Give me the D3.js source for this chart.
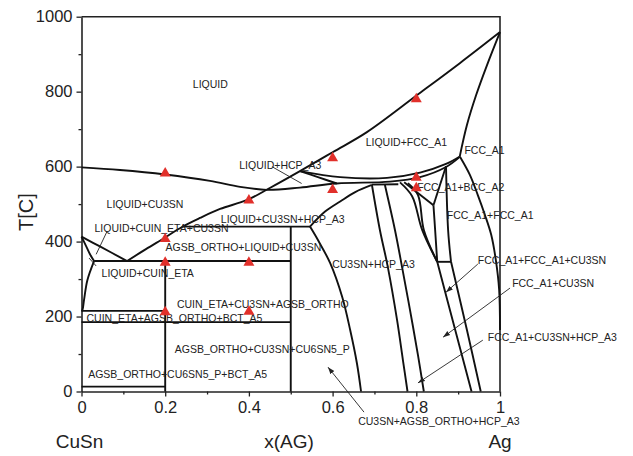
<!DOCTYPE html>
<html>
<head>
<meta charset="utf-8">
<script src="https://cdn.jsdelivr.net/npm/d3@7"></script>
<style>
  body { margin: 0; background: #fff; }
  svg { display: block; font-family: "Liberation Sans", Arial, sans-serif; }
</style>
</head>
<body>
<svg id="chart"></svg>
<script>
// axis ticks
const xTicks = [0, 0.2, 0.4, 0.6, 0.8, 1];
const xMinor = [0.1, 0.3, 0.5, 0.7, 0.9];
const yTicks = [0, 200, 400, 600, 800, 1000];
const yMinor = [100, 300, 500, 700, 900];

// phase boundaries, [x(AG), T]
const liquidusRise = [[0.109,348],[0.154,380],[0.2,411],[0.24,439],[0.283,463],[0.331,487],[0.396,511],[0.45,543],[0.522,588],[0.601,639],[0.682,692],[0.802,791],[0.904,876],[1,959]];
const liquidusFall = [[0,598],[0.092,591],[0.2,579],[0.307,562],[0.379,546],[0.443,538],[0.522,544],[0.61,555],[0.737,560],[0.809,572],[0.871,599],[0.904,626]];
const solidusUpper = [[0.522,588],[0.618,572],[0.73,570],[0.809,584],[0.871,607],[0.904,627]];
const hcpEdge = [[0.522,588],[0.565,572],[0.61,555]];
const fccSolidus = [[1,959],[0.969,871],[0.943,791],[0.921,711],[0.904,628]];
const fccSolvus = [[0.904,627],[0.928,578],[0.947,524],[0.964,471],[0.979,418],[0.99,351],[0.998,271],[1,164]];
const cu3snLeft = [[0.546,440],[0.565,404],[0.594,343],[0.623,252],[0.642,164],[0.658,76],[0.668,0]];
const cu3snTop = [[0.546,440],[0.582,480],[0.618,507],[0.654,532],[0.694,551]];
const eut552 = [[0.694,552],[0.757,553]];
const hcpLeft = [[0.694,551],[0.713,431],[0.732,332],[0.754,191],[0.768,84],[0.779,0]];
const hcpRight = [[0.725,551],[0.749,431],[0.766,332],[0.785,217],[0.804,97],[0.818,0]];
const wedge1 = [[0.761,558],[0.79,521],[0.814,431],[0.85,346]];
const wedge2 = [[0.78,556],[0.804,524],[0.818,431],[0.85,346]];
const wedge3 = [[0.841,497],[0.845,431],[0.85,346]];
const bccLeft = [[0.771,558],[0.841,497]];
const bccRight = [[0.841,497],[0.871,601]];
const stripRight = [[0.871,601],[0.876,431],[0.883,346]];
const strip346 = [[0.85,346],[0.883,346]];
const fccLeft = [[0.85,346],[0.893,164],[0.932,0]];
const fccRight = [[0.883,346],[0.921,164],[0.954,0]];
const liqCuSn = [[0,413],[0.044,387],[0.109,348]];
const etaTop = [[0,413],[0.011,388],[0.02,367],[0.03,348]];
const etaLeft = [[0.03,348],[0.014,297],[0.006,244],[0.002,217],[0,215]];
const iso440 = [[0.24,440],[0.546,440]];
const iso348 = [[0.03,348],[0.5,348]];
const iso215 = [[0,215],[0.2,215]];
const iso185 = [[0,185],[0.5,185]];
const iso13 = [[0,13],[0.2,13]];
const line02 = [[0.2,348],[0.2,0]];
const line05 = [[0.5,440],[0.5,0]];

const boundaries = [liquidusRise, liquidusFall, solidusUpper, hcpEdge, fccSolidus, fccSolvus,
  cu3snLeft, cu3snTop, eut552, hcpLeft, hcpRight, wedge1, wedge2, wedge3, bccLeft, bccRight,
  stripRight, strip346, fccLeft, fccRight, liqCuSn, etaTop, etaLeft,
  iso440, iso348, iso215, iso185, iso13, line02, line05];

// pointer lines
const leaders = [[[0.061,427],[0.035,366]], [[0.018,356],[0.035,335]], [[0.455,600],[0.526,555]]];
const arrows = [[[0.947,340],[0.871,265]], [[1.024,276],[0.864,145]], [[0.959,137],[0.804,23]], [[0.675,-55],[0.589,65]]];

// measured points
const triX = [0.2, 0.4, 0.2, 0.2, 0.4, 0.2, 0.4, 0.6, 0.6, 0.8, 0.8, 0.8];
const triT = [582, 510, 407, 344, 344, 212, 213, 623, 538, 780, 571, 543];

// region labels
const labelText = ["LIQUID","LIQUID+FCC_A1","FCC_A1","LIQUID+HCP_A3","LIQUID+CU3SN","LIQUID+CU3SN+HCP_A3",
  "LIQUID+CUIN_ETA+CU3SN","AGSB_ORTHO+LIQUID+CU3SN","LIQUID+CUIN_ETA","CUIN_ETA+CU3SN+AGSB_ORTHO",
  "CUIN_ETA+AGSB_ORTHO+BCT_A5","AGSB_ORTHO+CU3SN+CU6SN5_P","AGSB_ORTHO+CU6SN5_P+BCT_A5","CU3SN+HCP_A3",
  "FCC_A1+BCC_A2","FCC_A1+FCC_A1","FCC_A1+FCC_A1+CU3SN","FCC_A1+CU3SN","FCC_A1+CU3SN+HCP_A3",
  "CU3SN+AGSB_ORTHO+HCP_A3"];
const labelX = [0.266,0.679,0.915,0.377,0.060,0.333,0.031,0.201,0.048,0.228,0.012,0.223,0.016,0.599,0.802,0.873,0.947,1.029,0.971,0.661];
const labelT = [811,654,634,594,490,450,426,376,305,223,186,104,36,329,536,460,339,278,134,-89];

const width = 633, height = 456;
const margin = { top: 16.7, right: 133, bottom: 64.5, left: 81.5 };

const svg = d3.select('#chart').attr('width', width).attr('height', height);

const x = d3.scaleLinear().domain([0, 1]).range([margin.left, width - margin.right]);
const y = d3.scaleLinear().domain([0, 1000]).range([height - margin.bottom, margin.top]);

svg.append('defs').append('marker')
  .attr('id', 'head')
  .attr('viewBox', '0 0 10 10')
  .attr('refX', 10).attr('refY', 5)
  .attr('markerWidth', 7).attr('markerHeight', 7)
  .attr('markerUnits', 'userSpaceOnUse')
  .attr('orient', 'auto')
  .append('path').attr('d', 'M0,1.5 L10,5 L0,8.5 Z').attr('fill', '#222');

const line = d3.line()
  .x(d => x(d[0]))
  .y(d => y(d[1]))
  .curve(d3.curveCatmullRom.alpha(0.5));

// frame
svg.append('path')
  .attr('d', `M${x(0)},${y(1000)} H${x(1)} V${y(0)}`)
  .attr('fill', 'none').attr('stroke', '#222').attr('stroke-width', 1.6);

// axes
const styleAxis = g => {
  g.select('.domain').attr('stroke', '#222').attr('stroke-width', 1.6);
  g.selectAll('.tick line').attr('stroke', '#222').attr('stroke-width', 1.3);
  g.selectAll('text').attr('fill', '#222').style('font-size', '16.5px')
    .style('font-family', '"Liberation Sans", Arial, sans-serif');
};

svg.append('g')
  .attr('transform', `translate(0,${y(0)})`)
  .call(d3.axisBottom(x).tickValues(xMinor).tickSize(3).tickFormat('').tickSizeOuter(0))
  .call(g => g.select('.domain').remove())
  .selectAll('line').attr('stroke', '#222').attr('stroke-width', 1.3);
svg.append('g')
  .attr('transform', `translate(0,${y(0)})`)
  .call(d3.axisBottom(x).tickValues(xTicks).tickSize(5).tickPadding(5).tickSizeOuter(0).tickFormat(d3.format('')))
  .call(styleAxis);

svg.append('g')
  .attr('transform', `translate(${x(0)},0)`)
  .call(d3.axisLeft(y).tickValues(yMinor).tickSize(3).tickFormat('').tickSizeOuter(0))
  .call(g => g.select('.domain').remove())
  .selectAll('line').attr('stroke', '#222').attr('stroke-width', 1.3);
svg.append('g')
  .attr('transform', `translate(${x(0)},0)`)
  .call(d3.axisLeft(y).tickValues(yTicks).tickSize(5).tickPadding(4).tickSizeOuter(0).tickFormat(d3.format('d')))
  .call(styleAxis);

// axis titles
svg.append('text')
  .attr('transform', `translate(33,${(y(0) + y(1000)) / 2 + 8}) rotate(-90)`)
  .attr('text-anchor', 'middle')
  .style('font-size', '20px').attr('fill', '#222')
  .text('T[C]');
svg.append('text').attr('x', x(0) - 2).attr('y', 448).attr('text-anchor', 'middle')
  .style('font-size', '19px').attr('fill', '#222').text('CuSn');
svg.append('text').attr('x', 289).attr('y', 448).attr('text-anchor', 'middle')
  .style('font-size', '19px').attr('fill', '#222').text('x(AG)');
svg.append('text').attr('x', x(1)).attr('y', 448).attr('text-anchor', 'middle')
  .style('font-size', '19px').attr('fill', '#222').text('Ag');

// phase boundaries
svg.append('g').selectAll('path')
  .data(boundaries)
  .enter()
  .append('path')
  .attr('d', line)
  .attr('fill', 'none')
  .attr('stroke', '#111')
  .attr('stroke-width', 1.9)
  .attr('stroke-linejoin', 'round');

// pointers
svg.append('g').selectAll('path')
  .data(leaders)
  .enter()
  .append('path')
  .attr('d', line)
  .attr('fill', 'none').attr('stroke', '#222').attr('stroke-width', 0.9);

svg.append('g').selectAll('path')
  .data(arrows)
  .enter()
  .append('path')
  .attr('d', line)
  .attr('fill', 'none').attr('stroke', '#222').attr('stroke-width', 0.9)
  .attr('marker-end', 'url(#head)');

// labels
svg.append('g').selectAll('text')
  .data(labelText)
  .enter()
  .append('text')
  .attr('x', (d, i) => x(labelX[i]))
  .attr('y', (d, i) => y(labelT[i]))
  .style('font-size', '10.5px')
  .attr('fill', '#222')
  .text(d => d);

// measured points
svg.append('g').selectAll('path')
  .data(triX)
  .enter()
  .append('path')
  .attr('d', d3.symbol(d3.symbolTriangle).size(52))
  .attr('transform', (d, i) => `translate(${x(d)},${y(triT[i])})`)
  .attr('fill', '#e1302b');
</script>
</body>
</html>
